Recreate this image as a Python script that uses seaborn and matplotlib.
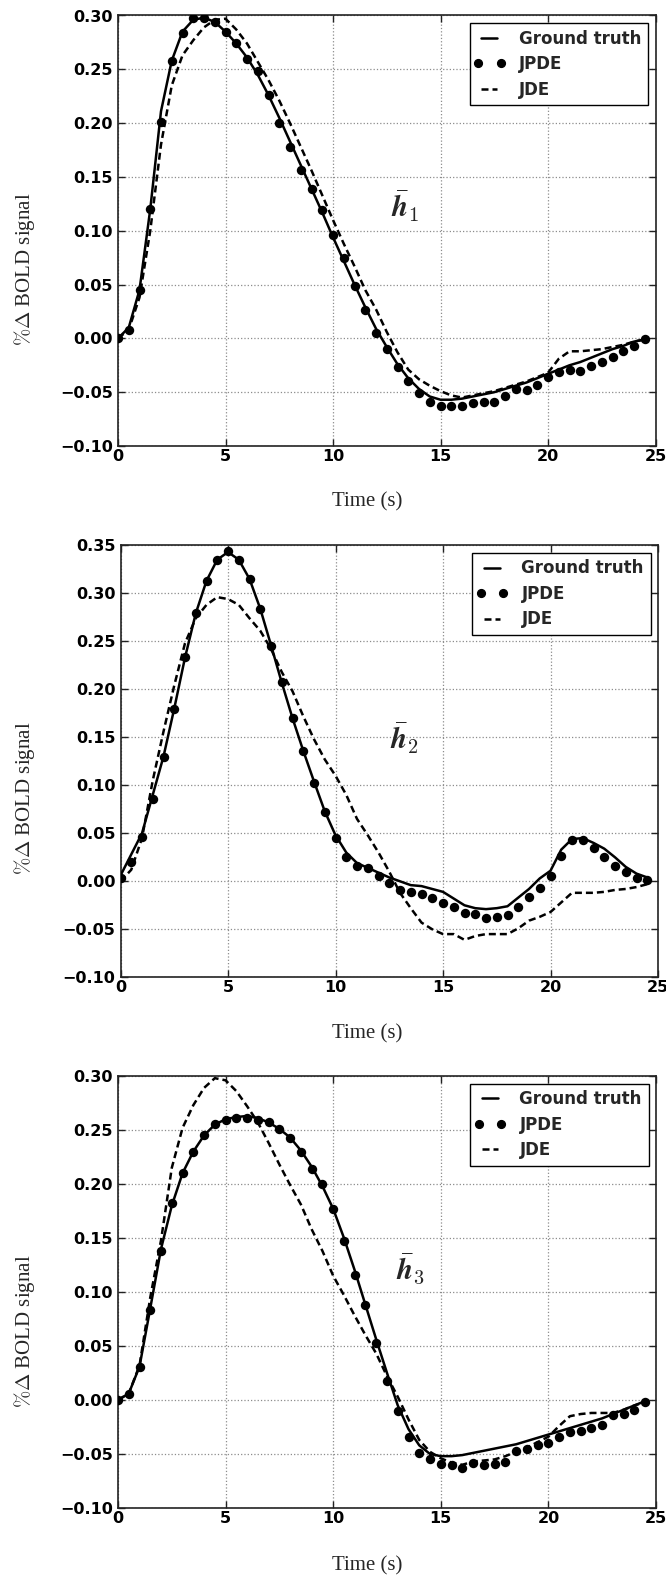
import matplotlib
matplotlib.use("Agg")
import matplotlib.pyplot as plt
import seaborn as sns
from matplotlib.lines import Line2D
from matplotlib.legend_handler import HandlerLine2D
from matplotlib.ticker import FuncFormatter, FixedLocator

# ---------------- data ----------------
TIME = [0.0, 0.5, 1.0, 1.5, 2.0, 2.5, 3.0, 3.5, 4.0, 4.5,
        5.0, 5.5, 6.0, 6.5, 7.0, 7.5, 8.0, 8.5, 9.0, 9.5,
        10.0, 10.5, 11.0, 11.5, 12.0, 12.5, 13.0, 13.5, 14.0, 14.5,
        15.0, 15.5, 16.0, 16.5, 17.0, 17.5, 18.0, 18.5, 19.0, 19.5,
        20.0, 20.5, 21.0, 21.5, 22.0, 22.5, 23.0, 23.5, 24.0, 24.5]

# Panel 1 (h1)
GT1 = [0.000, 0.010, 0.045, 0.120, 0.211, 0.258, 0.285, 0.296, 0.298, 0.294,
       0.285, 0.274, 0.261, 0.245, 0.226, 0.205, 0.183, 0.161, 0.139, 0.117,
       0.094, 0.072, 0.050, 0.029, 0.009, -0.008, -0.024, -0.037, -0.047, -0.054,
       -0.057, -0.057, -0.056, -0.054, -0.052, -0.050, -0.047, -0.044, -0.041, -0.037,
       -0.033, -0.029, -0.025, -0.022, -0.018, -0.014, -0.010, -0.007, -0.003, -0.001]
JPDE1 = [0.000, 0.008, 0.045, 0.120, 0.201, 0.258, 0.284, 0.298, 0.298, 0.294,
         0.285, 0.274, 0.260, 0.248, 0.226, 0.200, 0.178, 0.156, 0.139, 0.119,
         0.096, 0.075, 0.049, 0.026, 0.005, -0.010, -0.027, -0.040, -0.051, -0.059,
         -0.063, -0.063, -0.063, -0.060, -0.059, -0.059, -0.054, -0.047, -0.048, -0.043,
         -0.036, -0.031, -0.029, -0.030, -0.026, -0.022, -0.017, -0.012, -0.007, -0.001]
JDE1 = [0.000, 0.008, 0.038, 0.100, 0.180, 0.235, 0.263, 0.277, 0.289, 0.296,
        0.297, 0.287, 0.274, 0.257, 0.240, 0.221, 0.200, 0.178, 0.156, 0.133,
        0.110, 0.088, 0.067, 0.045, 0.027, 0.006, -0.013, -0.029, -0.038, -0.044,
        -0.049, -0.053, -0.055, -0.053, -0.051, -0.049, -0.046, -0.043, -0.040, -0.036,
        -0.032, -0.019, -0.012, -0.012, -0.011, -0.010, -0.008, -0.006, -0.003, -0.001]

# Panel 2 (h2)
GT2 = [0.006, 0.028, 0.050, 0.090, 0.130, 0.180, 0.233, 0.279, 0.313, 0.335,
       0.343, 0.335, 0.315, 0.284, 0.246, 0.207, 0.170, 0.136, 0.104, 0.073,
       0.048, 0.030, 0.019, 0.014, 0.009, 0.004, 0.000, -0.004, -0.005, -0.008,
       -0.011, -0.018, -0.025, -0.028, -0.029, -0.028, -0.026, -0.017, -0.008, 0.003,
       0.011, 0.033, 0.044, 0.045, 0.040, 0.034, 0.025, 0.015, 0.008, 0.004]
JPDE2 = [0.003, 0.020, 0.046, 0.086, 0.129, 0.179, 0.234, 0.279, 0.313, 0.335,
         0.344, 0.335, 0.315, 0.284, 0.245, 0.208, 0.170, 0.136, 0.102, 0.072,
         0.045, 0.025, 0.016, 0.014, 0.006, -0.002, -0.009, -0.011, -0.013, -0.017,
         -0.023, -0.027, -0.033, -0.034, -0.038, -0.037, -0.035, -0.027, -0.016, -0.007,
         0.006, 0.026, 0.043, 0.043, 0.035, 0.025, 0.016, 0.010, 0.003, 0.001]
JDE2 = [0.000, 0.012, 0.045, 0.105, 0.156, 0.204, 0.248, 0.274, 0.288, 0.296,
        0.294, 0.288, 0.274, 0.261, 0.242, 0.218, 0.198, 0.172, 0.148, 0.127,
        0.110, 0.090, 0.065, 0.048, 0.030, 0.010, -0.012, -0.028, -0.043, -0.050,
        -0.055, -0.055, -0.061, -0.057, -0.055, -0.055, -0.055, -0.049, -0.041, -0.037,
        -0.032, -0.022, -0.012, -0.012, -0.012, -0.011, -0.009, -0.008, -0.006, -0.003]

# Panel 3 (h3)
GT3 = [0.000, 0.006, 0.031, 0.085, 0.140, 0.180, 0.210, 0.230, 0.245, 0.255,
       0.260, 0.262, 0.263, 0.261, 0.257, 0.251, 0.243, 0.231, 0.216, 0.198,
       0.177, 0.150, 0.120, 0.088, 0.056, 0.025, -0.005, -0.027, -0.042, -0.050,
       -0.052, -0.052, -0.051, -0.049, -0.047, -0.045, -0.043, -0.041, -0.038, -0.035,
       -0.032, -0.029, -0.026, -0.023, -0.020, -0.017, -0.013, -0.009, -0.005, -0.001]
JPDE3 = [0.000, 0.006, 0.031, 0.083, 0.138, 0.182, 0.210, 0.230, 0.245, 0.256,
         0.259, 0.261, 0.261, 0.259, 0.257, 0.251, 0.243, 0.230, 0.214, 0.200,
         0.177, 0.147, 0.116, 0.088, 0.053, 0.018, -0.010, -0.034, -0.049, -0.055,
         -0.059, -0.060, -0.063, -0.058, -0.060, -0.059, -0.057, -0.047, -0.045, -0.042,
         -0.040, -0.034, -0.030, -0.029, -0.026, -0.023, -0.014, -0.013, -0.009, -0.002]
JDE3 = [0.000, 0.006, 0.032, 0.095, 0.148, 0.215, 0.252, 0.273, 0.289, 0.298,
        0.296, 0.286, 0.272, 0.257, 0.238, 0.218, 0.199, 0.181, 0.158, 0.138,
        0.115, 0.097, 0.078, 0.060, 0.043, 0.022, 0.003, -0.018, -0.037, -0.048,
        -0.054, -0.058, -0.060, -0.057, -0.056, -0.055, -0.052, -0.048, -0.044, -0.039,
        -0.034, -0.024, -0.015, -0.013, -0.012, -0.012, -0.012, -0.009, -0.005, -0.002]

SERIES_LABELS = ["Ground truth", "JPDE", "JDE"]
PANEL_NAMES = [r"$\bar{\boldsymbol{h}}_1$", r"$\bar{\boldsymbol{h}}_2$", r"$\bar{\boldsymbol{h}}_3$"]
YLIMS = [(-0.10, 0.30), (-0.10, 0.35), (-0.10, 0.30)]
XTICKS = [0, 5, 10, 15, 20, 25]
XLABEL = "Time (s)"
YLABEL = r"$\%\Delta$ BOLD signal"

# ---------------- style ----------------
sns.set_theme(style="white")
plt.rcParams.update({
    "font.family": ["DejaVu Sans"],
    "font.weight": "bold",
    "mathtext.fontset": "cm",
    "axes.edgecolor": "#222222",
    "axes.linewidth": 1.2,
    "xtick.direction": "in",
    "ytick.direction": "in",
    "xtick.top": True,
    "ytick.right": True,
    "xtick.bottom": True,
    "ytick.left": True,
    "xtick.major.size": 5,
    "ytick.major.size": 5,
    "xtick.major.width": 1.0,
    "ytick.major.width": 1.0,
    "xtick.color": "#222222",
    "ytick.color": "#222222",
    "xtick.labelcolor": "black",
    "ytick.labelcolor": "black",
    "xtick.labelsize": 11.5,
    "ytick.labelsize": 11.5,
    "xtick.major.pad": 2,
    "ytick.major.pad": 3.5,
})

W, H = 666, 1577
fig = plt.figure(figsize=(W / 100, H / 100), dpi=100)

# axes boxes in pixels: (left, top, right, bottom)
boxes = [(118, 15.5, 655.5, 446), (120.5, 545.3, 658, 977.3), (118, 1076, 656, 1508)]
annot_pos = [(13.35, 0.123), (13.2, 0.149), (13.6, 0.122)]
xlabel_y = [502, 1034, 1566]
ylabel_y = [269, 798, 1331]

panels = [(GT1, JPDE1, JDE1), (GT2, JPDE2, JDE2), (GT3, JPDE3, JDE3)]
dash = (0, (2.8, 1.6))
fmt = FuncFormatter(lambda v, p: ("%.2f" % v).replace("-", "\u2212") if abs(v) > 1e-9 else "0.00")

for i, (gt, jp, jd) in enumerate(panels):
    l, t, r, b = boxes[i]
    ax = fig.add_axes([l / W, 1 - b / H, (r - l) / W, (b - t) / H])
    sns.lineplot(x=TIME, y=gt, ax=ax, color="black", linewidth=1.8, estimator=None, legend=False, zorder=3)
    sns.lineplot(x=TIME, y=jd, ax=ax, color="black", linewidth=1.8, linestyle=dash, estimator=None,
                 legend=False, zorder=3)
    sns.scatterplot(x=TIME, y=jp, ax=ax, color="black", s=46, linewidth=0, legend=False, zorder=4)

    ax.set_xlim(0, 25)
    ax.set_ylim(*YLIMS[i])
    ax.xaxis.set_major_locator(FixedLocator(XTICKS))
    ylo, yhi = YLIMS[i]
    n = int(round((yhi - ylo) / 0.05))
    ax.yaxis.set_major_locator(FixedLocator([round(ylo + 0.05 * k, 2) for k in range(n + 1)]))
    ax.yaxis.set_major_formatter(fmt)
    ax.xaxis.set_major_formatter(FuncFormatter(lambda v, p: "%d" % v))
    ax.grid(True, color="#8c8c8c", linestyle=":", linewidth=0.9)
    ax.set_axisbelow(True)
    for s in ax.spines.values():
        s.set_visible(True)
        s.set_color("#222222")
        s.set_linewidth(1.2)
    ax.set_xlabel("")
    ax.set_ylabel("")

    h_gt = Line2D([], [], color="black", linewidth=1.8)
    h_jp = Line2D([], [], color="black", marker="o", linestyle="none", markersize=5.6)
    h_jd = Line2D([], [], color="black", linewidth=1.8, linestyle=dash)
    leg = ax.legend([h_gt, h_jp, h_jd], SERIES_LABELS, loc="upper right", numpoints=2, fancybox=False,
                    framealpha=1, edgecolor="black", prop={"weight": "bold", "size": 12},
                    handlelength=1.55, handletextpad=1.0, labelspacing=0.45, borderaxespad=0.45,
                    borderpad=0.4,
                    handler_map={h_jp: HandlerLine2D(numpoints=2, marker_pad=0.1)})
    leg.get_frame().set_linewidth(1.0)

    ax.text(annot_pos[i][0], annot_pos[i][1], PANEL_NAMES[i], fontsize=21, ha="center",
            va="center", fontweight="normal")

    fig.text(367 / W, 1 - xlabel_y[i] / H, XLABEL, ha="center", va="center",
             family="Liberation Serif", fontweight="normal", fontsize=15)
    fig.text(25 / W, 1 - ylabel_y[i] / H, YLABEL, ha="center", va="center", rotation=90,
             family="Liberation Serif", fontweight="normal", fontsize=15)

fig.savefig("out.png", dpi=100)
